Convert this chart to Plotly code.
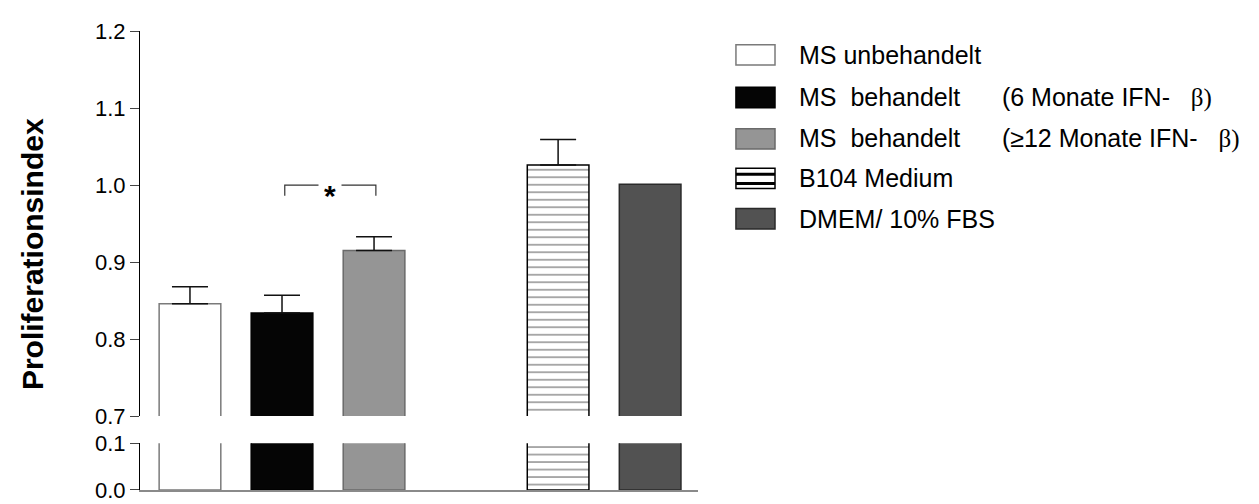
import plotly.graph_objects as go

# ---- data ----
categories = ["MS unbehandelt",
              "MS behandelt (6 Monate IFN-β)",
              "MS behandelt (≥12 Monate IFN-β)",
              "B104 Medium",
              "DMEM/ 10% FBS"]
SP = "&nbsp;"
BETA = "<span style='font-family:Liberation Serif'>β)</span>"
legend_html = ["MS unbehandelt",
               "MS" + SP * 2 + "behandelt" + SP * 6 + "(6 Monate IFN-" + SP * 3 + BETA,
               "MS" + SP * 2 + "behandelt" + SP * 6 + "(≥12 Monate IFN-" + SP * 3 + BETA,
               "B104 Medium",
               "DMEM/ 10% FBS"]
x_pos = [0, 1, 2, 4, 5]
means = [0.846, 0.834, 0.915, 1.026, 1.001]
sem = [0.022, 0.023, 0.018, 0.033, 0.0]
sig_pair = (1, 2)
sig_level = 1.0
sig_label = "*"
upper_ticks = [0.7, 0.8, 0.9, 1.0, 1.1, 1.2]
lower_ticks = [0.0, 0.1]

# ---- styles ----
fills = ["#ffffff", "#050505", "#959595", "#ffffff", "#525252"]
lines = ["#7a7a7a", "#000000", "#6a6a6a", "#000000", "#2a2a2a"]
patterns = ["", "", "", "-", ""]
FONT = "Liberation Sans, Arial, sans-serif"

fig = go.Figure()
for i in range(len(categories)):
    pat = dict(shape=patterns[i], fgcolor="#222222", bgcolor="#ffffff",
               size=7.5, solidity=0.2) if patterns[i] else None
    common = dict(x=[x_pos[i]], y=[means[i]], width=0.67,
                  marker=dict(color=fills[i], line=dict(color=lines[i], width=1.5),
                              pattern=pat),
                  showlegend=False, name=categories[i])
    fig.add_trace(go.Bar(xaxis="x", yaxis="y", **common))
    fig.add_trace(go.Bar(xaxis="x2", yaxis="y2",
                         error_y=dict(type="data", array=[sem[i]], arrayminus=[0],
                                      symmetric=False, thickness=1.5, width=18,
                                      color="#111111", visible=sem[i] > 0),
                         **common))

XR = [-0.543, 5.52]
fig.update_layout(
    width=1259, height=504,
    margin=dict(l=132, r=569, t=23, b=9),
    plot_bgcolor="white", paper_bgcolor="white",
    font=dict(family=FONT, size=22, color="black"),
    barmode="overlay",
    xaxis=dict(domain=[0, 1], range=XR, showticklabels=False, ticks="",
               showgrid=False, zeroline=False, showline=True, linecolor="#8a8a8a",
               linewidth=1.5, anchor="y"),
    xaxis2=dict(domain=[0, 1], range=XR, matches="x", visible=False, anchor="y2"),
    yaxis=dict(domain=[0, 0.1017], range=[0, 0.1], tickvals=lower_ticks,
               tickformat=".1f", ticks="outside", ticklen=9, tickwidth=1.2,
               showline=True, linecolor="black", linewidth=1.2, showgrid=False,
               zeroline=False, anchor="x", tickfont=dict(size=22)),
    yaxis2=dict(domain=[0.161, 1], range=[0.7, 1.2], tickvals=upper_ticks,
                tickformat=".1f", ticks="outside", ticklen=9, tickwidth=1.2,
                showline=True, linecolor="black", linewidth=1.2, showgrid=False,
                zeroline=False, anchor="x2", tickfont=dict(size=22)),
)

# significance bracket
xa, xb = x_pos[sig_pair[0]], x_pos[sig_pair[1]]
drop = 0.014
fig.add_shape(type="path", xref="x2", yref="y2",
              path=f"M {xa+0.03},{sig_level-drop} L {xa+0.03},{sig_level} L {xb+0.02},{sig_level} L {xb+0.02},{sig_level-drop}",
              line=dict(color="#333333", width=1.2))
fig.add_annotation(x=(xa + xb) / 2 + 0.02, y=sig_level, xref="x2", yref="y2",
                   text=f"<b>{sig_label}</b>", showarrow=False, bgcolor="white",
                   font=dict(size=30), yshift=-10, borderpad=5)

# y title
fig.add_annotation(x=-0.1935, y=0.514, xref="paper", yref="paper",
                   text="<b>Proliferationsindex</b>", textangle=-90, showarrow=False,
                   font=dict(size=30), xanchor="center", yanchor="middle")

# custom legend
row_y = [0.948, 0.855, 0.765, 0.679, 0.591]
sw_x0, sw_x1 = 1.068, 1.138
sw_h = 0.0445
for i in range(len(categories)):
    y0, y1 = row_y[i] - sw_h / 2, row_y[i] + sw_h / 2
    fig.add_shape(type="rect", xref="paper", yref="paper", x0=sw_x0, x1=sw_x1,
                  y0=y0, y1=y1, fillcolor=fills[i],
                  line=dict(color=lines[i], width=1.5))
    if patterns[i] == "-":
        for frac in (0.25, 0.7):
            yy = y0 + (y1 - y0) * frac
            fig.add_shape(type="line", xref="paper", yref="paper", x0=sw_x0, x1=sw_x1,
                          y0=yy, y1=yy, line=dict(color="black", width=3))
    fig.add_annotation(x=1.177, y=row_y[i], xref="paper", yref="paper",
                       text=legend_html[i], showarrow=False, xanchor="left",
                       yanchor="middle", font=dict(size=25))

fig.write_html("out.html")
